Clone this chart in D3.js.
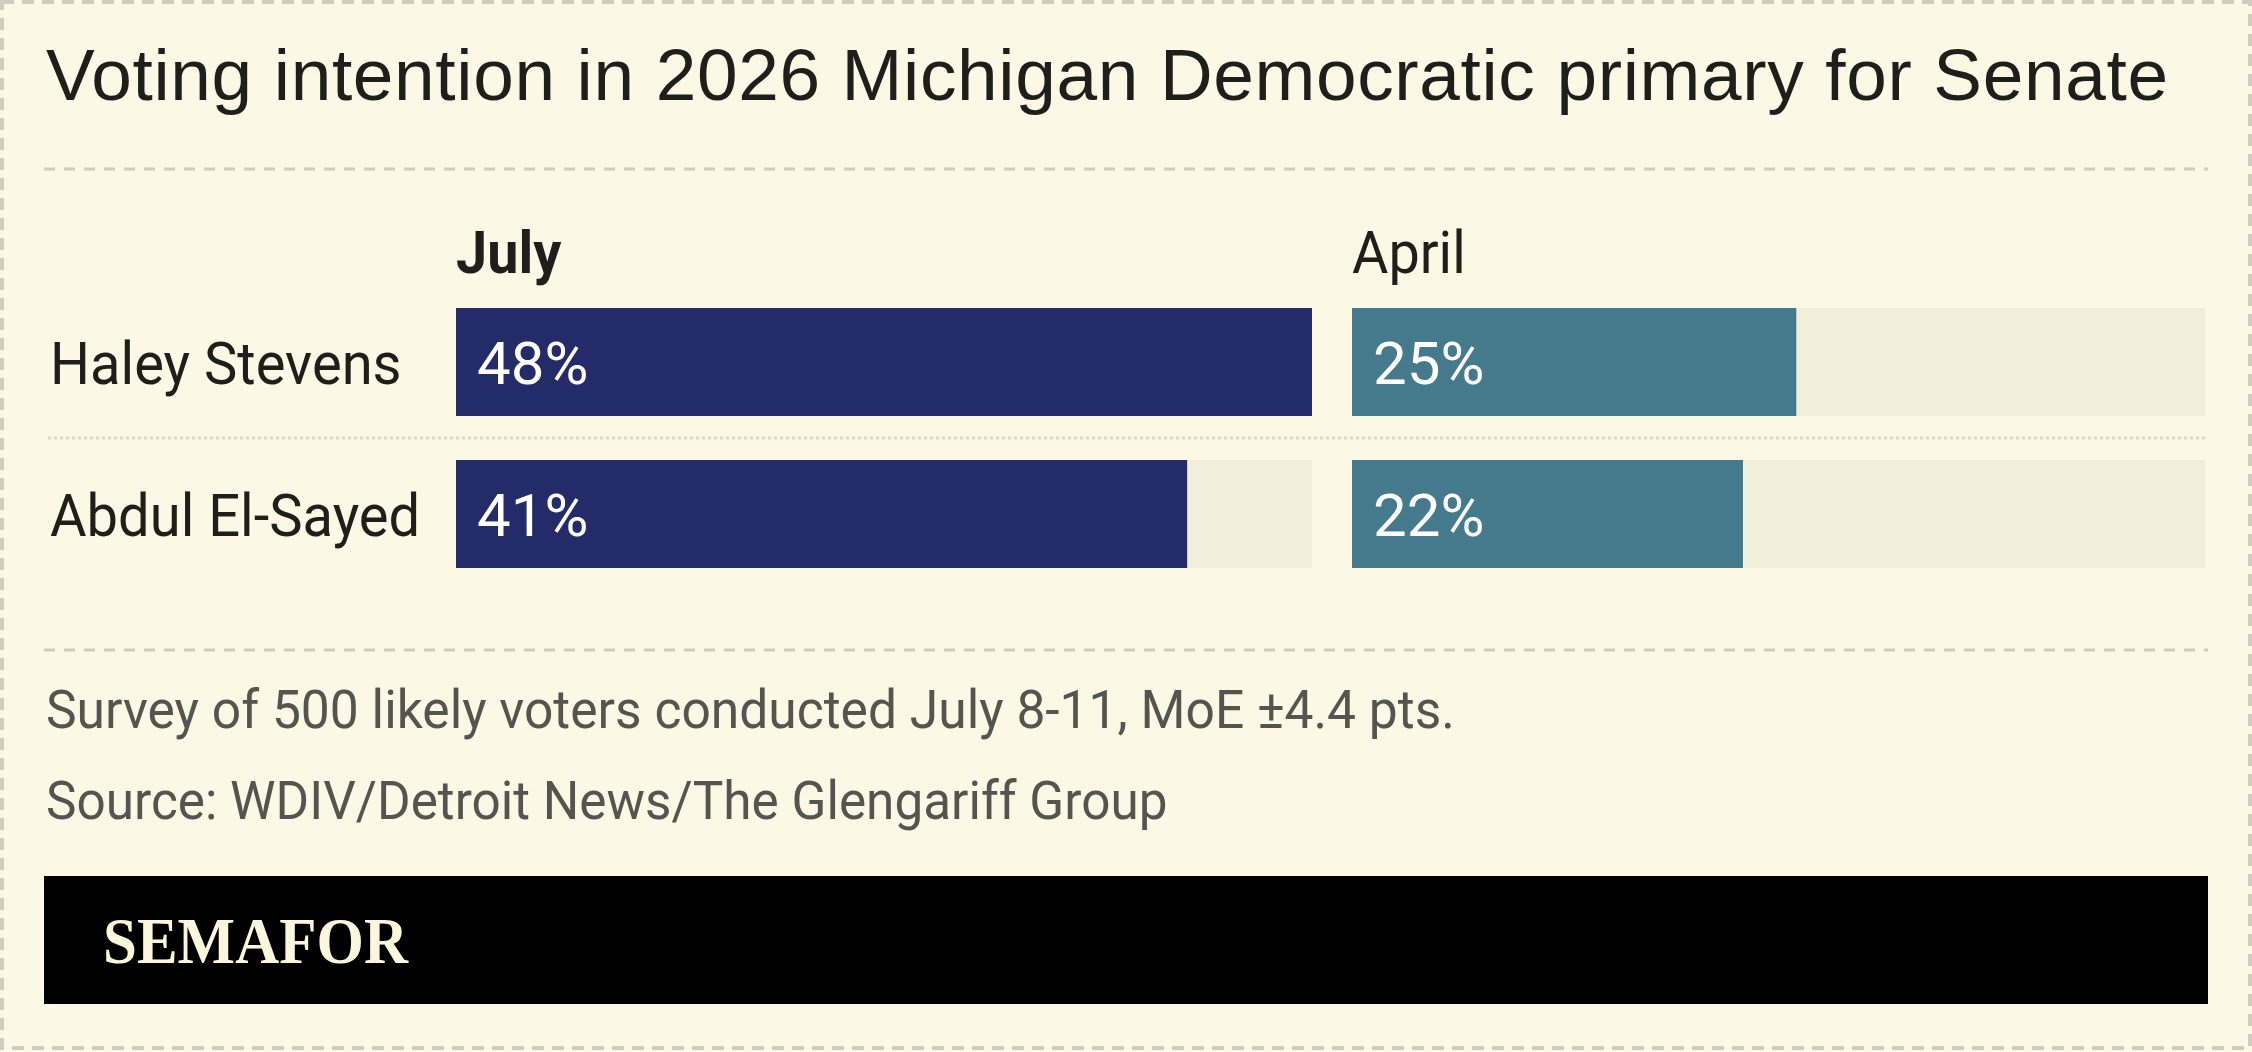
<!DOCTYPE html>
<html><head><meta charset="utf-8">
<script src="https://cdn.jsdelivr.net/npm/d3@7/dist/d3.min.js"></script>
<style>
html,body{margin:0;padding:0;background:#fbf8e6;}
svg{display:block;}
</style></head>
<body>
<svg id="chart" width="2252" height="1052"></svg>
<script>
// ---- data ----
const title = "Voting intention in 2026 Michigan Democratic primary for Senate";
const candidates = ["Haley Stevens", "Abdul El-Sayed"];
const periods = ["July", "April"];
const julyValues = [48, 41];
const aprilValues = [25, 22];
const notes = ["Survey of 500 likely voters conducted July 8-11, MoE \u00b14.4 pts.",
               "Source: WDIV/Detroit News/The Glengariff Group"];
const brand = "SEMAFOR";

// ---- style ----
const W = 2252, H = 1052;
const BG = "#fbf8e6", TRACK = "#f1eedb", NAVY = "#232b69", TEAL = "#457a8c";
const INK = "#1e1e1a", GREY = "#55554f", RULE = "#d0ccbf";
const COND = "Roboto, 'Noto Sans', sans-serif";

const svg = d3.select("#chart");
svg.append("rect").attr("width", W).attr("height", H).attr("fill", BG);
svg.append("rect").attr("x", 2).attr("y", 2).attr("width", W - 4).attr("height", H - 6)
  .attr("fill", "none").attr("stroke", RULE).attr("stroke-width", 4).attr("stroke-dasharray", "12 8");

// title
svg.append("text").attr("x", 46).attr("y", 100)
  .attr("font-family", "'Liberation Sans', Arial, sans-serif").attr("font-size", 73)
  .attr("textLength", 2122).attr("lengthAdjust", "spacing")
  .attr("fill", INK).text(title);

svg.append("line").attr("x1", 44).attr("x2", 2208).attr("y1", 169).attr("y2", 169)
  .attr("stroke", RULE).attr("stroke-width", 3).attr("stroke-dasharray", "11 9");

function condText(parent, x, y, str, size, fill, weight, k) {
  const g = parent.append("g").attr("transform", `translate(${x},${y}) scale(${k},1)`);
  g.append("text").attr("x", 0).attr("y", 0).attr("font-family", COND)
    .attr("font-size", size).attr("font-weight", weight || 400).attr("fill", fill).text(str);
  return g;
}

// scales
const maxV = d3.max(julyValues.concat(aprilValues));
const y = d3.scaleBand().domain(candidates).range([308, 568]).paddingInner(44 / 152).paddingOuter(0);
const panels = [
  {name: periods[0], values: julyValues, color: NAVY, bold: 700,
   x: d3.scaleLinear().domain([0, maxV]).range([456, 1312])},
  {name: periods[1], values: aprilValues, color: TEAL, bold: 400,
   x: d3.scaleLinear().domain([0, maxV]).range([1352, 2205])}
];

// row separator
const sepY = y(candidates[0]) + y.bandwidth() + (y.step() - y.bandwidth()) / 2;
svg.append("line").attr("x1", 48).attr("x2", 2205).attr("y1", sepY).attr("y2", sepY)
  .attr("stroke", "#dcd8c8").attr("stroke-width", 3).attr("stroke-dasharray", "3 3");

// row labels
candidates.forEach(c => condText(svg, 50, y(c) + y.bandwidth() / 2 + 22, c, 60, INK, 400, 0.935));

panels.forEach(p => {
  condText(svg, p.x.range()[0], 273, p.name, 60, INK, p.bold, 0.93);
  const g = svg.append("g");
  g.selectAll("rect.track").data(candidates).join("rect").attr("class", "track")
    .attr("x", p.x(0)).attr("y", d => y(d)).attr("width", p.x(maxV) - p.x(0)).attr("height", y.bandwidth())
    .attr("fill", TRACK);
  g.selectAll("rect.bar").data(candidates).join("rect").attr("class", "bar")
    .attr("x", p.x(0)).attr("y", d => y(d)).attr("width", (d, i) => p.x(p.values[i]) - p.x(0))
    .attr("height", y.bandwidth()).attr("fill", p.color);
  candidates.forEach((c, i) => condText(g, p.x(0) + 21, y(c) + y.bandwidth() / 2 + 22, p.values[i] + "%", 60, "#ffffff", 400, 1.0));
});

// bottom rule
svg.append("line").attr("x1", 44).attr("x2", 2208).attr("y1", 650).attr("y2", 650)
  .attr("stroke", RULE).attr("stroke-width", 3).attr("stroke-dasharray", "11 9");

condText(svg, 46, 728, notes[0], 54, GREY, 400, 0.955);
condText(svg, 46, 819, notes[1], 54, GREY, 400, 0.95);

// footer
svg.append("rect").attr("x", 44).attr("y", 876).attr("width", 2164).attr("height", 128).attr("fill", "#000");
svg.append("text").attr("x", 103).attr("y", 963)
  .attr("font-family", "'Liberation Serif', 'DejaVu Serif', serif").attr("font-weight", 700)
  .attr("font-size", 66).attr("fill", "#fbf6dc")
  .attr("textLength", 305).attr("lengthAdjust", "spacingAndGlyphs").text(brand);
</script>
</body></html>
